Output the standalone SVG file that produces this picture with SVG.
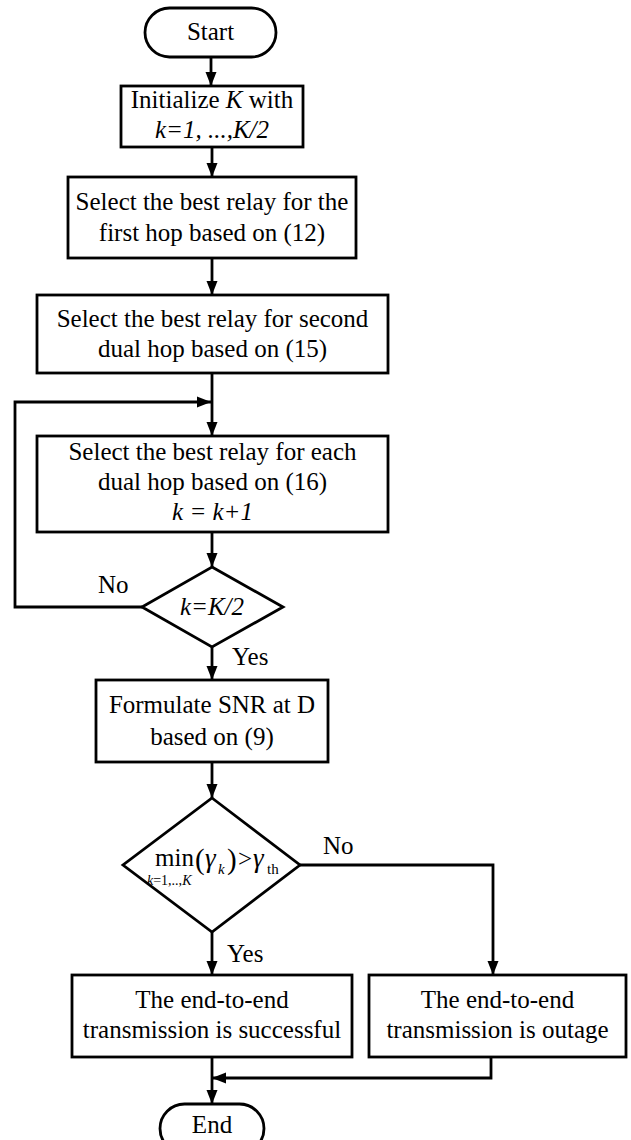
<svg xmlns="http://www.w3.org/2000/svg" width="631" height="1140" viewBox="0 0 631 1140">
<style>
  .shape { fill: #fff; stroke: #000; stroke-width: 2.8; }
  .conn { fill: none; stroke: #000; stroke-width: 2.8; }
  text { font-family: "Liberation Serif", "Times New Roman", serif; font-size: 25px; fill: #000; }
  .c { text-anchor: middle; }
  .i { font-style: italic; }
  .sub { font-size: 15px; }
</style>
<defs>
  <marker id="arr" markerUnits="userSpaceOnUse" markerWidth="14" markerHeight="14" viewBox="0 0 14 14" refX="14" refY="7" orient="auto">
    <path d="M0,1.5 L14,7 L0,12.5 Z" fill="#000"/>
  </marker>
</defs>
<rect width="631" height="1140" fill="#fff"/>

<g id="connectors">
  <line class="conn" x1="211" y1="57" x2="211" y2="86" marker-end="url(#arr)"/>
  <line class="conn" x1="212" y1="147" x2="212" y2="177" marker-end="url(#arr)"/>
  <line class="conn" x1="212" y1="258" x2="212" y2="295" marker-end="url(#arr)"/>
  <line class="conn" x1="212" y1="373" x2="212" y2="436" marker-end="url(#arr)"/>
  <polyline class="conn" points="142,607 15,607 15,402 211,402" marker-end="url(#arr)"/>
  <line class="conn" x1="212" y1="532" x2="212" y2="567" marker-end="url(#arr)"/>
  <line class="conn" x1="212" y1="647" x2="212" y2="680" marker-end="url(#arr)"/>
  <line class="conn" x1="212" y1="762" x2="212" y2="798" marker-end="url(#arr)"/>
  <line class="conn" x1="212" y1="932" x2="212" y2="975" marker-end="url(#arr)"/>
  <polyline class="conn" points="300,865 493,865 493,975" marker-end="url(#arr)"/>
  <polyline class="conn" points="491,1057 491,1078 212,1078" marker-end="url(#arr)"/>
  <line class="conn" x1="212" y1="1057" x2="212" y2="1104" marker-end="url(#arr)"/>
  <text x="98" y="593">No</text>
  <text x="232" y="665">Yes</text>
  <text x="323" y="854">No</text>
  <text x="227" y="962">Yes</text>
</g>

<g id="start">
  <rect class="shape" x="145" y="8" width="131" height="49" rx="24.5" ry="24.5"/>
  <text class="c" x="210.5" y="40">Start</text>
</g>

<g id="init">
  <rect class="shape" x="121" y="86" width="182" height="61"/>
  <text class="c" x="212" y="108">Initialize <tspan class="i">K</tspan> with</text>
  <text class="c i" x="212" y="138">k=1, ...,K/2</text>
</g>

<g id="select-first">
  <rect class="shape" x="68" y="177" width="288" height="81"/>
  <text class="c" x="212" y="210">Select the best relay for the</text>
  <text class="c" x="212" y="241">first hop based on (12)</text>
</g>

<g id="select-second">
  <rect class="shape" x="37" y="295" width="351" height="78"/>
  <text class="c" x="212.5" y="327">Select the best relay for second</text>
  <text class="c" x="212.5" y="357">dual hop based on (15)</text>
</g>

<g id="select-each">
  <rect class="shape" x="37" y="436" width="351" height="96"/>
  <text class="c" x="212.5" y="460">Select the best relay for each</text>
  <text class="c" x="212.5" y="490">dual hop based on (16)</text>
  <text class="c i" x="212.5" y="520">k = k+1</text>
</g>

<g id="decision-k">
  <polygon class="shape" points="212,567 283,607 212,647 142,607"/>
  <text class="c i" x="212" y="615">k=K/2</text>
</g>

<g id="formulate">
  <rect class="shape" x="96" y="680" width="232" height="82"/>
  <text class="c" x="212" y="713">Formulate SNR at D</text>
  <text class="c" x="212" y="745">based on (9)</text>
</g>

<g id="decision-min">
  <polygon class="shape" points="212,798 300,865 212,932 123,865"/>
  <text x="155" y="866">min</text>
  <text class="sub" x="147" y="885" style="font-size:14px"><tspan class="i">k</tspan>=1,..,<tspan class="i">K</tspan></text>
  <text x="195" y="869" style="font-size:29px">(</text>
  <text class="i" x="205" y="867" style="font-size:27px">γ</text>
  <text class="sub i" x="218" y="874">k</text>
  <text x="227" y="869" style="font-size:29px">)</text>
  <text x="238" y="867">&gt;</text>
  <text class="i" x="253" y="867" style="font-size:27px">γ</text>
  <text class="sub" x="267" y="874">th</text>
</g>

<g id="success">
  <rect class="shape" x="72" y="975" width="280" height="82"/>
  <text class="c" x="212" y="1008">The end-to-end</text>
  <text class="c" x="212" y="1038">transmission is successful</text>
</g>

<g id="outage">
  <rect class="shape" x="369" y="975" width="257" height="82"/>
  <text class="c" x="497.5" y="1008">The end-to-end</text>
  <text class="c" x="497.5" y="1038">transmission is outage</text>
</g>

<g id="end">
  <rect class="shape" x="160" y="1104" width="104" height="49" rx="24.5" ry="24.5"/>
  <text class="c" x="212" y="1133">End</text>
</g>
</svg>
